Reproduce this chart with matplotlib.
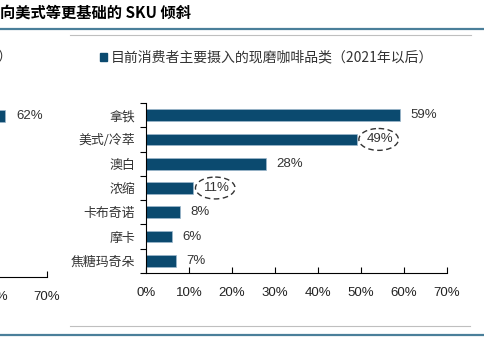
import matplotlib
matplotlib.use("Agg")
import matplotlib.pyplot as plt
from matplotlib.patches import Ellipse, Rectangle
from matplotlib.lines import Line2D

plt.rcParams['font.family'] = ['Noto Sans CJK SC', 'DejaVu Sans']

# Main chart data
categories = ["拿铁", "美式/冷萃", "澳白", "浓缩", "卡布奇诺", "摩卡", "焦糖玛奇朵"]
values = [59, 49, 28, 11, 8, 6, 7]
highlighted = ["美式/冷萃", "浓缩"]
legend_label = "目前消费者主要摄入的现磨咖啡品类（2021年以后）"
title = "向美式等更基础的 SKU 倾斜"
xticks = [0, 10, 20, 30, 40, 50, 60, 70]

# Partially visible neighbouring chart (cut at the left edge)
left_values = [62]
left_xticks = [60, 70]

BAR = "#0b4a6f"
EDGE = "#9db8cc"
RULE = "#4a7f9a"
GRAY = "#bfbfbf"
W, H = 484, 364

fig = plt.figure(figsize=(4.84, 3.64), dpi=100)


def fx(px):
    return px / W


def fy(py):
    return 1 - py / H


# title and rules
fig.text(fx(0), fy(13), title, fontsize=11, fontweight="bold", style="italic",
         ha="left", va="center")
fig.add_artist(Line2D([0, 1], [fy(29), fy(29)], color=RULE, lw=1.6))
fig.add_artist(Line2D([fx(70), fx(471)], [fy(35), fy(35)], color=GRAY, lw=0.8))
fig.add_artist(Line2D([fx(70), fx(470)], [fy(326), fy(326)], color=GRAY, lw=0.8))
fig.add_artist(Line2D([0, 1], [fy(335), fy(335)], color=RULE, lw=1.6))

num_font = ["Liberation Sans", "DejaVu Sans"]

# ---- main chart ----
ax = fig.add_axes([fx(146), fy(273), fx(447 - 146), (273 - 103) / H])
pos = list(range(len(categories)))
ax.barh(pos, values, height=0.48, color=BAR, edgecolor=EDGE, linewidth=0.5)
ax.set_xlim(0, 70)
ax.set_ylim(len(categories) - 0.5, -0.5)
for s in ["top", "right"]:
    ax.spines[s].set_visible(False)
for s in ["left", "bottom"]:
    ax.spines[s].set_linewidth(0.8)

ax.set_xticks(xticks)
ax.set_xticklabels([f"{t}%" for t in xticks], fontfamily=num_font, fontsize=9.5,
                   color="#222222")
ax.tick_params(axis="x", direction="in", length=4, width=0.8, pad=10)

ax.set_yticks([p - 0.5 for p in pos] + [len(pos) - 0.5])
ax.set_yticklabels([])
ax.tick_params(axis="y", which="major", direction="out", length=4, width=0.8)
ax.set_yticks(pos, minor=True)
ax.set_yticklabels(categories, minor=True, fontsize=9.3, color="#333333")
ax.tick_params(axis="y", which="minor", length=0, pad=8)

for p, v, c in zip(pos, values, categories):
    ax.text(v + 2.4, p, f"{v}%", va="center", ha="left", fontsize=9.5,
            fontfamily=num_font, color="#333333")
    if c in highlighted:
        ax.add_patch(Ellipse((v + 5.1, p), 9.2, 0.9, fill=False, ls=(0, (4, 2.5)),
                             lw=1.0, edgecolor="#333333", clip_on=False))

# legend
fig.add_artist(Rectangle((fx(100), fy(60.5)), fx(7), 7 / H, color=BAR))
fig.text(fx(111), fy(57), legend_label, fontsize=10, ha="left", va="center",
         color="#333333")

# ---- neighbouring chart, cut off ----
lax = fig.add_axes([fx(-317), fy(277), fx(364), (277 - 104) / H])
lax.barh([0], left_values, height=0.48, color=BAR, edgecolor=EDGE, linewidth=0.5)
lax.set_xlim(0, 70)
lax.set_ylim(6.5, -0.5)
for s in ["top", "right", "left"]:
    lax.spines[s].set_visible(False)
lax.spines["bottom"].set_linewidth(0.8)
lax.set_yticks([])
lax.set_xticks(left_xticks)
lax.set_xticklabels([f"{t}%" for t in left_xticks], fontfamily=num_font,
                    fontsize=9.5, color="#222222")
lax.tick_params(axis="x", direction="in", length=4, width=0.8, pad=10)
for i, v in enumerate(left_values):
    lax.text(v + 2.2, i, f"{v}%", va="center", ha="left", fontsize=9.5,
             fontfamily=num_font, color="#333333")
fig.text(fx(-3), fy(58), "）", fontsize=10, ha="left", va="center", color="#333333")

fig.savefig("out.png", dpi=100)
